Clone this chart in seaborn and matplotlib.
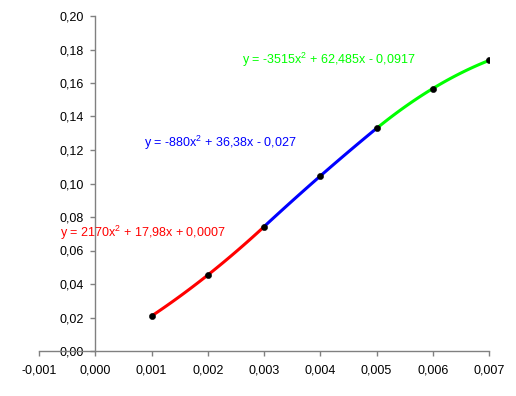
import numpy as np
import pandas as pd
import matplotlib
matplotlib.use("Agg")
import matplotlib.pyplot as plt
import seaborn as sns

# data points
x_pts = [0.001, 0.002, 0.003, 0.004, 0.005, 0.006, 0.007]
y_pts = [0.0209, 0.0453, 0.0742, 0.1044, 0.1329, 0.1567, 0.1735]

# trendline segments (from labels): coefficients a, b, c for y = a x^2 + b x + c
seg_names = ["red", "blue", "green"]
seg_ranges = [(0.001, 0.003), (0.003, 0.005), (0.005, 0.007)]
seg_coefs = [(2170, 17.98, 0.0007), (-880, 36.38, -0.027), (-3515, 62.485, -0.0917)]
seg_colors = ["#ff0000", "#0000ff", "#00ff00"]
seg_labels = ["y = 2170x$^2$ + 17,98x + 0,0007",
              "y = -880x$^2$ + 36,38x - 0,027",
              "y = -3515x$^2$ + 62,485x - 0,0917"]
label_pos = [(-0.00063, 0.0705), (0.00086, 0.1245), (0.00261, 0.1735)]

x_ticks = [-0.001, 0.000, 0.001, 0.002, 0.003, 0.004, 0.005, 0.006, 0.007]
y_ticks = [0.00, 0.02, 0.04, 0.06, 0.08, 0.10, 0.12, 0.14, 0.16, 0.18, 0.20]

sns.set_style("white")
plt.rcParams['font.family'] = ['Liberation Sans', 'DejaVu Sans']
plt.rcParams['mathtext.default'] = 'regular'

fig = plt.figure(figsize=(5.16, 3.96), dpi=100)
ax = fig.add_axes([39/516, 1-351/396, 450/516, 335/396])

for (lo, hi), (a, b, c), col in zip(seg_ranges, seg_coefs, seg_colors):
    xs = np.linspace(lo, hi, 60)
    df = pd.DataFrame({"x": xs, "y": a*xs**2 + b*xs + c})
    sns.lineplot(data=df, x="x", y="y", color=col, linewidth=2.2, ax=ax, zorder=2)

sns.scatterplot(x=x_pts, y=y_pts, color="black", s=20, edgecolor="black", ax=ax, zorder=3)

for txt, (tx, ty), col in zip(seg_labels, label_pos, seg_colors):
    ax.text(tx, ty, txt, color=col, fontsize=9, ha="left", va="center")

ax.set_xlim(-0.001, 0.007)
ax.set_ylim(0, 0.2)
ax.set_xticks(x_ticks)
ax.set_yticks(y_ticks)
ax.set_xticklabels([f"{v:.3f}".replace(".", ",") for v in x_ticks])
ax.set_yticklabels([f"{v:.2f}".replace(".", ",") for v in y_ticks])
ax.set_xlabel("")
ax.set_ylabel("")

ax.spines["top"].set_visible(False)
ax.spines["right"].set_visible(False)
ax.spines["left"].set_position(("data", 0))
for s in ["left", "bottom"]:
    ax.spines[s].set_color("#808080")
    ax.spines[s].set_linewidth(1.0)
ax.tick_params(axis="both", direction="out", length=3.5, width=1, color="#808080",
               labelsize=9, labelcolor="black", bottom=True, left=True)
ax.tick_params(axis="x", pad=6)
ax.tick_params(axis="y", pad=5)
ax.set_facecolor("white")

fig.savefig("out.png", dpi=100)
